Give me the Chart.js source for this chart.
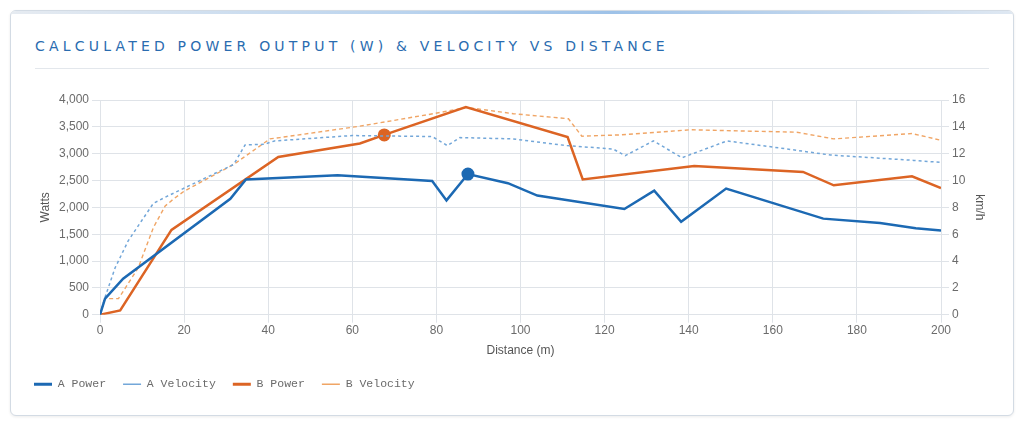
<!DOCTYPE html>
<html>
<head>
<meta charset="utf-8">
<script src="https://cdn.jsdelivr.net/npm/chart.js@4.4.1/dist/chart.umd.min.js"></script>
<style>
  html, body { margin: 0; padding: 0; background: #ffffff; }
  body { width: 1024px; height: 427px; position: relative; overflow: hidden; font-family: "Liberation Sans", Arial, sans-serif; }
  .card {
    position: absolute; left: 10px; top: 10px; width: 1002px; height: 404px;
    border: 1px solid #d3dbe4; border-radius: 6px; background: #fff;
    box-shadow: 0 1px 3px rgba(0,0,0,0.08); overflow: hidden;
  }
  .card::before {
    content: ""; position: absolute; left: 0; right: 0; top: 0; height: 3px;
    background: linear-gradient(90deg, #e6ebf1 0%, #b9d3ee 40%, #9ec2e8 60%, #dfe8f2 100%);
  }
  .title {
    position: absolute; left: 24px; top: 27px; margin: 0;
    font-family: "DejaVu Sans", sans-serif; font-weight: normal; font-size: 14px;
    letter-spacing: 4.2px; color: #2a6cb0; white-space: nowrap;
  }
  .sep { position: absolute; left: 24px; right: 24px; top: 57px; height: 1px; background: #e3e7ec; }
  .chart-box { position: absolute; left: 6px; top: 75px; width: 974px; height: 314px; }
</style>
</head>
<body>
<div class="card">
  <h2 class="title">CALCULATED POWER OUTPUT (W) &amp; VELOCITY VS DISTANCE</h2>
  <div class="sep"></div>
  <div class="chart-box"><canvas id="powerChart"></canvas></div>
</div>
<script>
// --- DATA ---
const aPowerDist = [0, 1.2, 5.5, 31, 34.7, 56.5, 79, 82.4, 87.5, 97, 104, 124.7, 131.8, 138.2, 148.9, 172, 185.5, 194, 200];
const aPowerW    = [0, 300, 670, 2160, 2520, 2600, 2490, 2130, 2620, 2450, 2220, 1970, 2310, 1730, 2350, 1790, 1710, 1610, 1570];

const aVelDist = [0, 1.2, 3.6, 6.7, 9.9, 12.7, 15.8, 31.8, 34.5, 39, 41.5, 60, 79, 82.6, 85.6, 98.3, 111, 122, 124.9, 131.6, 138.4, 149.1, 163.4, 173.7, 193.5, 200];
const aVelKmh  = [0, 1.3, 3.5, 5.5, 7.0, 8.3, 8.8, 11.2, 12.65, 12.7, 12.95, 13.35, 13.28, 12.6, 13.2, 13.1, 12.6, 12.35, 11.85, 12.95, 11.7, 12.95, 12.35, 11.9, 11.5, 11.35];

const bPowerDist = [0, 4.8, 17, 42.4, 61.8, 67.6, 87, 111.2, 114.8, 141.3, 167.2, 174.5, 193.1, 200];
const bPowerW    = [0, 80, 1580, 2940, 3190, 3350, 3870, 3310, 2520, 2770, 2660, 2410, 2580, 2360];

const bVelDist = [0, 1.2, 4.4, 9.1, 12.7, 15.5, 17.4, 20, 31.8, 40.4, 42.8, 61.8, 79.3, 87.2, 98.3, 111.4, 114.6, 123.7, 140.4, 165.7, 174.5, 193.1, 200];
const bVelKmh  = [0, 1.2, 1.2, 3.5, 6.5, 8.1, 8.6, 9.2, 11.2, 13.1, 13.2, 14.05, 14.98, 15.45, 14.98, 14.6, 13.3, 13.4, 13.78, 13.6, 13.1, 13.5, 13.0];

// highlighted points (index into the power arrays)
const aMarkerIdx = 8;
const bMarkerIdx = 5;

// --- COLOURS ---
const colors = {
    aPower: '#1c69b3',
    aVel: '#73a7d9',
    bPower: '#dc6424',
    bVel: '#f0a565'
};

function toPoints(xs, ys) {
    return xs.map((x, i) => ({ x: x, y: ys[i] }));
}

const tickColor = '#6b6b6b';
const gridColor = '#dfe3e8';
const tickFont = { family: 'Liberation Sans', size: 12 };

new Chart(document.getElementById('powerChart'), {
    type: 'line',
    data: {
        datasets: [
            {
                label: 'A Power',
                data: toPoints(aPowerDist, aPowerW),
                yAxisID: 'y',
                borderColor: colors.aPower,
                backgroundColor: colors.aPower,
                borderWidth: 2.5,
                pointRadius: c => c.dataIndex === aMarkerIdx ? 5 : 0,
                pointBorderWidth: 3,
                tension: 0
            },
            {
                label: 'A Velocity',
                data: toPoints(aVelDist, aVelKmh),
                yAxisID: 'y1',
                borderColor: colors.aVel,
                backgroundColor: colors.aVel,
                borderWidth: 1.5,
                borderDash: [3, 3],
                pointRadius: 0,
                pointBorderWidth: 1.5,
                tension: 0
            },
            {
                label: 'B Power',
                data: toPoints(bPowerDist, bPowerW),
                yAxisID: 'y',
                borderColor: colors.bPower,
                backgroundColor: colors.bPower,
                borderWidth: 2.5,
                pointRadius: c => c.dataIndex === bMarkerIdx ? 5 : 0,
                pointBorderWidth: 3,
                tension: 0
            },
            {
                label: 'B Velocity',
                data: toPoints(bVelDist, bVelKmh),
                yAxisID: 'y1',
                borderColor: colors.bVel,
                backgroundColor: colors.bVel,
                borderWidth: 1.4,
                borderDash: [4, 3],
                pointRadius: 0,
                pointBorderWidth: 1.5,
                tension: 0
            }
        ]
    },
    options: {
        responsive: true,
        maintainAspectRatio: false,
        animation: false,
        layout: { padding: { left: 0, right: 0, top: 14, bottom: 0 } },
        plugins: {
            legend: {
                position: 'bottom',
                align: 'start',
                labels: {
                    usePointStyle: true,
                    pointStyle: 'line',
                    pointStyleWidth: 18,
                    padding: 17,
                    color: tickColor,
                    font: { family: 'Liberation Mono', size: 11.5 }
                }
            },
            tooltip: { enabled: false }
        },
        scales: {
            x: {
                type: 'linear',
                min: 0,
                max: 200,
                ticks: { stepSize: 20, padding: 1, color: tickColor, font: tickFont },
                grid: { color: gridColor },
                border: { color: gridColor },
                title: { display: true, text: 'Distance (m)', color: '#555', font: tickFont, padding: { top: 4, bottom: 4 } }
            },
            y: {
                position: 'left',
                min: 0,
                max: 4000,
                afterFit: s => { s.width = 83; },
                ticks: { stepSize: 500, color: tickColor, font: tickFont },
                grid: { color: gridColor },
                border: { color: gridColor },
                title: { display: true, text: 'Watts', color: '#555', font: tickFont, padding: { top: 21, bottom: 4 } }
            },
            y1: {
                position: 'right',
                min: 0,
                max: 16,
                afterFit: s => { s.width = 50; },
                ticks: { stepSize: 2, color: tickColor, font: tickFont },
                grid: { drawOnChartArea: false, color: gridColor },
                border: { color: gridColor },
                title: { display: true, text: 'km/h', color: '#555', font: tickFont }
            }
        }
    }
});
</script>
</body>
</html>
